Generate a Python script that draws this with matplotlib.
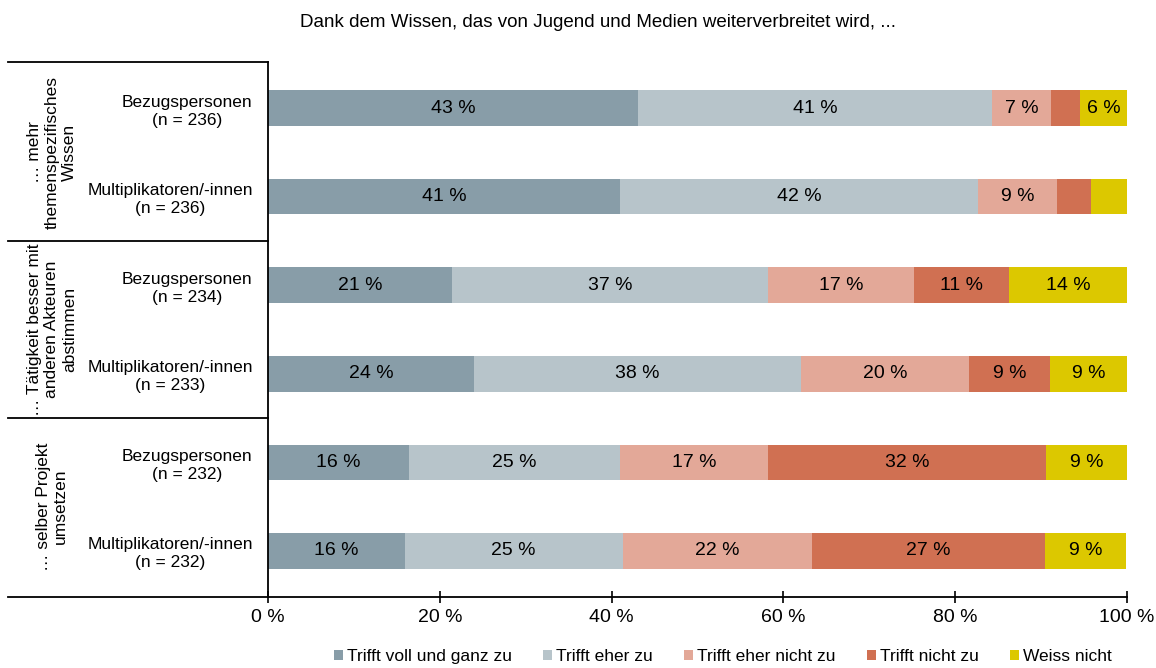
import matplotlib.pyplot as plt
import matplotlib.transforms as mtransforms
import numpy as np

plt.rcParams['font.family'] = ['Liberation Sans', 'DejaVu Sans']

rows = ["Bezugspersonen\n(n = 236)", "Multiplikatoren/-innen\n(n = 236)",
        "Bezugspersonen\n(n = 234)", "Multiplikatoren/-innen\n(n = 233)",
        "Bezugspersonen\n(n = 232)", "Multiplikatoren/-innen\n(n = 232)"]
groups = ["… mehr\nthemenspezifisches\nWissen",
          "… Tätigkeit besser mit\nanderen Akteuren\nabstimmen",
          "… selber Projekt\numsetzen"]
series = ["Trifft voll und ganz zu", "Trifft eher zu", "Trifft eher nicht zu",
          "Trifft nicht zu", "Weiss nicht"]
voll = [43.1, 41.0, 21.4, 24.0, 16.4, 15.9]
eher = [41.2, 41.6, 36.8, 38.0, 24.6, 25.4]
eher_nicht = [6.8, 9.3, 17.0, 19.6, 17.2, 22.0]
nicht = [3.4, 3.9, 11.1, 9.4, 32.4, 27.2]
weiss = [5.6, 4.2, 13.7, 9.1, 9.4, 9.4]
colors = ["#889DA8", "#B7C4CA", "#E3A898", "#D07052", "#DCC800"]

fig = plt.figure(figsize=(11.56, 6.68), dpi=100)
ax = fig.add_axes([268/1156, 1 - 597/668, 859/1156, 535/668])

y = np.arange(len(rows))
left = np.zeros(len(rows))
for name, vals, c in zip(series, [voll, eher, eher_nicht, nicht, weiss], colors):
    vals = np.array(vals)
    ax.barh(y, vals, left=left, height=0.4, color=c, label=name, edgecolor='none')
    for yi, l, v in zip(y, left, vals):
        if v >= 5:
            ax.text(l + v / 2, yi, f"{v:.0f} %", ha='center', va='center', fontsize=14)
    left += vals

ax.set_xlim(0, 100)
ax.set_ylim(5.52, -0.52)
ax.set_xticks(range(0, 101, 20))
ax.set_xticklabels([f"{t} %" for t in range(0, 101, 20)], fontsize=14)
ax.tick_params(axis='x', direction='inout', length=8, width=1.2, pad=5)
ax.set_yticks(y)
ax.set_yticklabels(rows, fontsize=12.5, multialignment='center', linespacing=1.25)
ax.tick_params(axis='y', length=0, pad=11)
for s in ['top', 'right']:
    ax.spines[s].set_visible(False)
ax.spines['left'].set_linewidth(1.3)
ax.spines['bottom'].set_linewidth(1.3)

# group frame on the left
tr = mtransforms.blended_transform_factory(ax.transAxes, ax.transData)
x0 = (8 - 268) / 859
for yy in [-0.52, 1.5, 3.5, 5.52]:
    ax.plot([x0, 0], [yy, yy], color='black', lw=1.3, transform=tr, clip_on=False)
for i, g in enumerate(groups):
    ax.text((52 - 268) / 859, 2 * i + 0.5, g, rotation=90, ha='center', va='center',
            multialignment='center', fontsize=12.5, transform=tr)

fig.text(0.517, 0.967, "Dank dem Wissen, das von Jugend und Medien weiterverbreitet wird, ...",
         ha='center', va='center', fontsize=13.5)

fig.legend(loc='center', bbox_to_anchor=(0.625, 0.017), ncol=5, frameon=False,
           fontsize=12.5, handlelength=0.55, handleheight=0.55, handletextpad=0.2,
           columnspacing=1.8, borderaxespad=0)

fig.savefig("out.png", dpi=100)
